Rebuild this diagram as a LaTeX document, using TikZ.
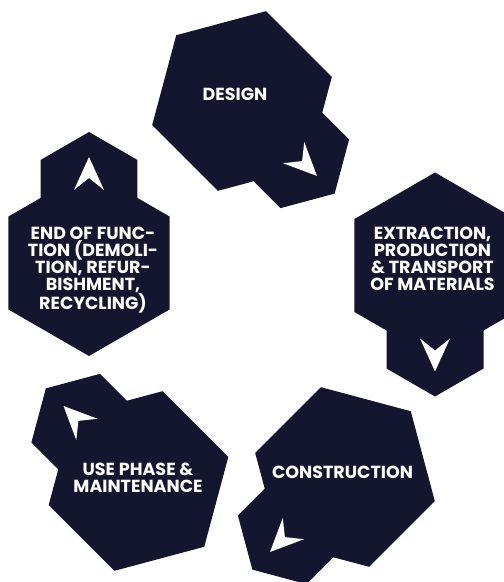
\documentclass[tikz,border=0pt]{standalone}
\usepackage{fontspec}
\setmainfont{Poppins}
\usepackage{xcolor}
\usetikzlibrary{calc}
\definecolor{navy}{HTML}{141630}

\tikzset{
  stagetext/.style={text=white, font=\bfseries\fontsize{17.5}{17}\selectfont, align=center, inner sep=0pt},
}

\begin{document}
\begin{tikzpicture}[x=1pt,y=1pt]
  \useasboundingbox (0,0) rectangle (504,582);
  \clip (0,0) rectangle (504,582);

  % stages: big hexagon + small hexagon with arrow, turned along the cycle
  \foreach \cx/\cy/\a in {242/481/-45, 435/316.5/-90, 345/105/-135, 138.5/101/135, 89/319/90} {
    \begin{scope}[shift={(\cx,\cy)}, rotate=\a]
      \fill[navy] (0:93) \foreach \k in {60,120,...,300} { -- (\k:93) } -- cycle;
      \fill[navy, shift={(75,0)}] (0:56) \foreach \k in {60,120,...,300} { -- (\k:56) } -- cycle;
      \fill[white] (106,0) -- (73,15) -- (85,0) -- (73,-15) -- cycle;
    \end{scope}
  }

  % labels
  \node[stagetext] (design) at (235,487.5) {DESIGN};
  \node[stagetext] (extract) at (432.5,323) {EXTRACTION,\\PRODUCTION\\\& TRANSPORT\\OF MATERIALS};
  \node[stagetext] (build) at (342.5,110) {CONSTRUCTION};
  \node[stagetext] (use) at (138,104) {USE PHASE \&\\MAINTENANCE};
  \node[stagetext] (eol) at (93,312) {END OF FUNC-\\TION (DEMOLI-\\TION, REFUR-\\BISHMENT,\\RECYCLING)};
\end{tikzpicture}
\end{document}
